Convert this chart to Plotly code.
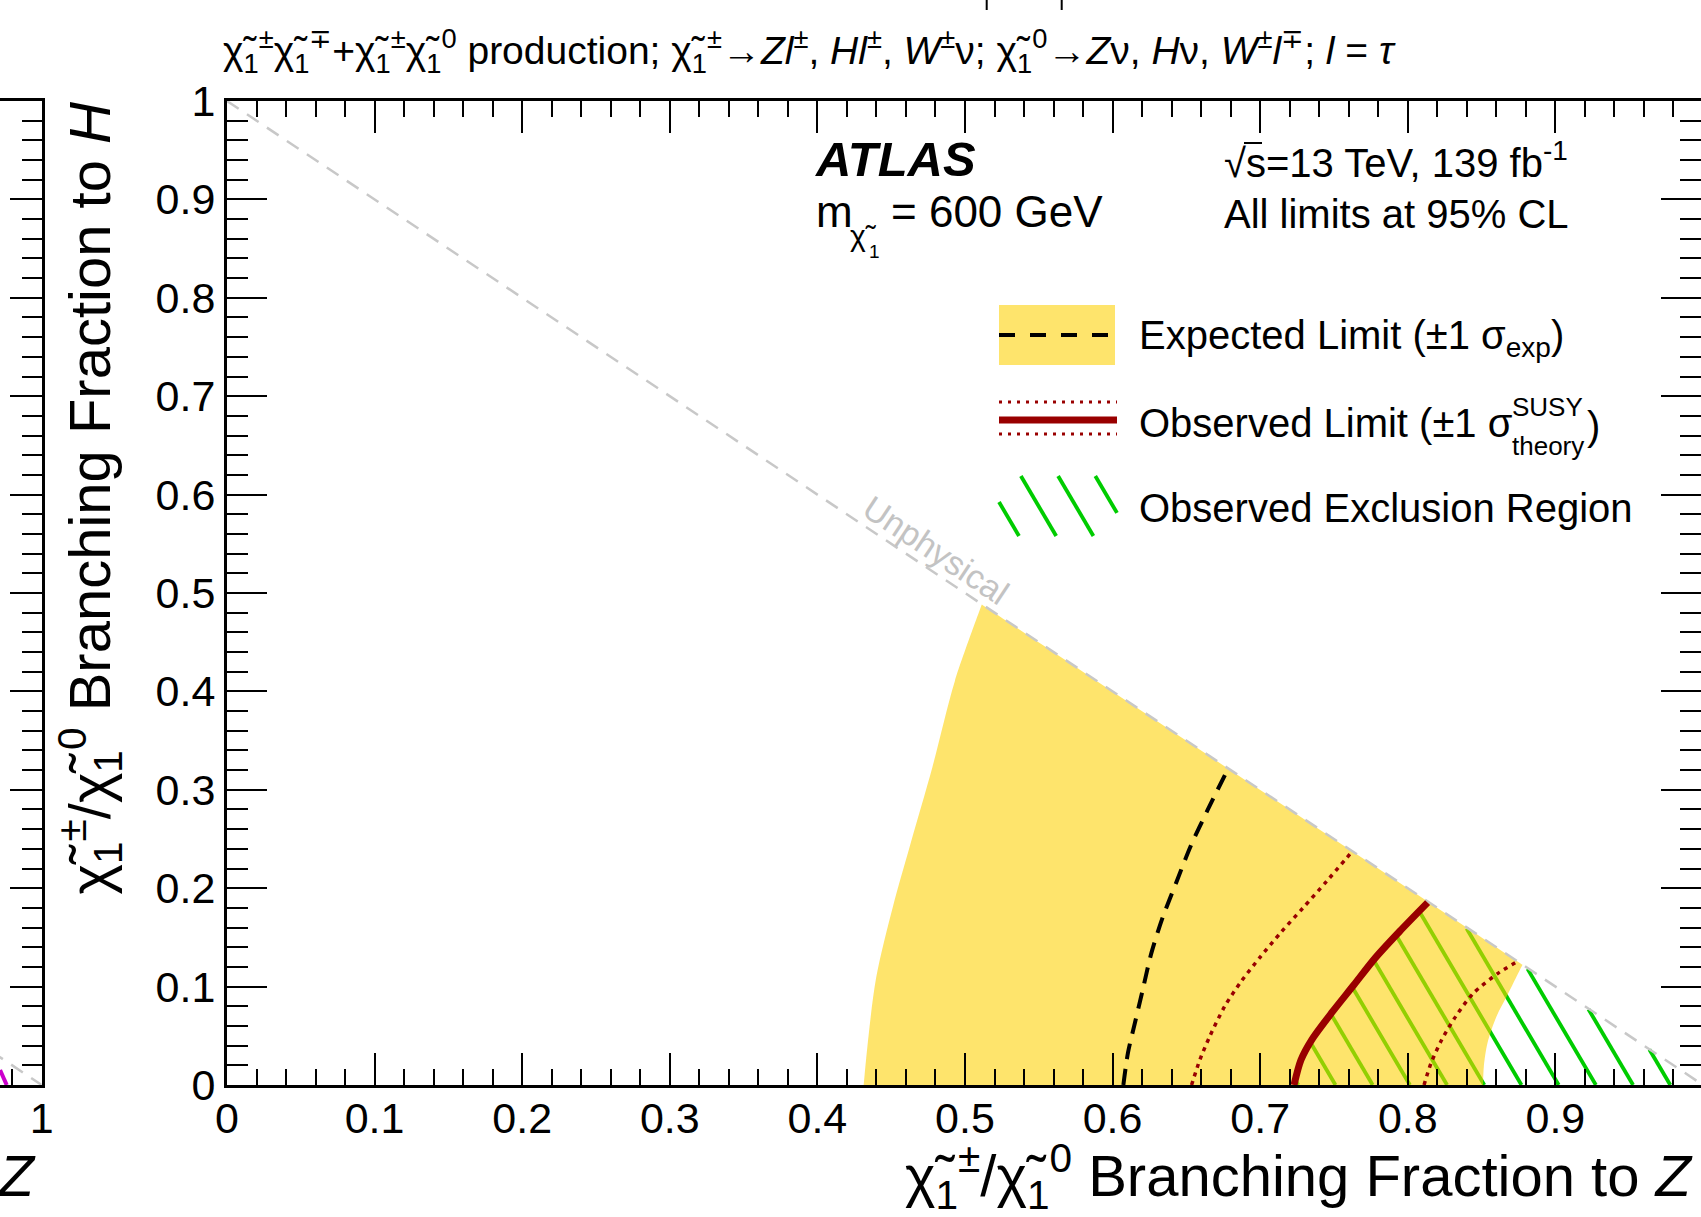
import plotly.graph_objects as go

# ---------------------------------------------------------------------------
# Canvas and frame geometry (pixels)
# ---------------------------------------------------------------------------
W, H = 1701, 1217
X0, X1 = 227.0, 1703.0      # pixel position of x = 0 and x = 1
Y_TOP, Y_BOT = 101.0, 1085.0  # pixel position of y = 1 and y = 0
LEFT_W = 41.7               # visible width of the neighbouring panel
FONT = "Liberation Sans, Arial, Helvetica, sans-serif"

# ---------------------------------------------------------------------------
# Limit contours in the (BF to Z, BF to H) plane, m(chi1) = 600 GeV
# ---------------------------------------------------------------------------
# expected +-1 sigma band: left edge (x-axis up to the kinematic boundary)
band_left_x = [0.4314, 0.4342, 0.4398, 0.4512, 0.4627, 0.4779, 0.4931, 0.5114]
band_left_y = [0.0000, 0.0437, 0.1089, 0.1815, 0.2432, 0.3230, 0.4102, 0.4882]
# expected +-1 sigma band: right edge (kinematic boundary down to the x-axis)
band_right_x = [0.8777, 0.8680, 0.8600, 0.8540, 0.8515, 0.8510]
band_right_y = [0.1223, 0.0930, 0.0694, 0.0427, 0.0186, 0.0000]

# expected limit
exp_x = [0.6073, 0.6104, 0.6149, 0.6206, 0.6263, 0.6340, 0.6434, 0.6530, 0.6644, 0.6766]
exp_y = [0.0000, 0.0327, 0.0617, 0.0980, 0.1343, 0.1706, 0.2069, 0.2432, 0.2795, 0.3165]

# observed limit
obs_x = [0.7229, 0.7276, 0.7348, 0.7490, 0.7634, 0.7777, 0.7944, 0.8134]
obs_y = [0.0000, 0.0254, 0.0457, 0.0745, 0.1016, 0.1287, 0.1560, 0.1853]

# observed limit, +1 sigma theory
obs_up_x = [0.6535, 0.6590, 0.6660, 0.6760, 0.6870, 0.7000, 0.7140, 0.7290, 0.7450, 0.7626]
obs_up_y = [0.0000, 0.0250, 0.0500, 0.0800, 0.1050, 0.1300, 0.1550, 0.1800, 0.2070, 0.2378]

# observed limit, -1 sigma theory
obs_dn_x = [0.8110, 0.8157, 0.8229, 0.8324, 0.8444, 0.8611, 0.8741]
obs_dn_y = [0.0000, 0.0220, 0.0457, 0.0695, 0.0932, 0.1135, 0.1253]

# kinematic boundary BF(Z) + BF(H) = 1
unphys_x = [0.0, 1.0]
unphys_y = [1.0, 0.0]

# axis ticks
x_tickvals = [0.0, 0.1, 0.2, 0.3, 0.4, 0.5, 0.6, 0.7, 0.8, 0.9]
x_ticktext = ["0", "0.1", "0.2", "0.3", "0.4", "0.5", "0.6", "0.7", "0.8", "0.9"]
y_tickvals = [0.0, 0.1, 0.2, 0.3, 0.4, 0.5, 0.6, 0.7, 0.8, 0.9, 1.0]
y_ticktext = ["0", "0.1", "0.2", "0.3", "0.4", "0.5", "0.6", "0.7", "0.8", "0.9", "1"]

# neighbouring panel (only its right edge is on the canvas)
side_tickvals = [1.0]
side_ticktext = ["1"]
side_hatch_x = [0.9718, 0.9763]
side_hatch_y = [0.0152, 0.0000]

# ---------------------------------------------------------------------------
# Styles
# ---------------------------------------------------------------------------
YELLOW_BAND = "rgba(253,208,2,0.58)"
YELLOW_SOLID = "#FEE46C"
DARK_RED = "#990000"
GREEN = "#00CC00"
GREY = "#C8C8C8"
HATCH_SLOPE_PX = 1.7          # hatch lines rise 1.7 px per px to the left
HATCH_STEP_PX = 37.2          # horizontal spacing of hatch lines
HATCH_PHASE = 0.751           # one hatch line meets the x-axis here
TICK_SIZE = 43
AXIS_TITLE_SIZE = 58
LEGEND_SIZE = 40

PX_PER_X = X1 - X0
PX_PER_Y = Y_BOT - Y_TOP


def px_x(X):
    return X / W


def px_y(Y):
    return 1.0 - Y / H


def clip_line(poly_x, poly_y, ox, oy, dx, dy):
    """Parameter intervals where the line o + t*d lies inside a polygon."""
    ts = []
    n = len(poly_x)
    for i in range(n):
        x1, y1 = poly_x[i], poly_y[i]
        x2, y2 = poly_x[(i + 1) % n], poly_y[(i + 1) % n]
        ex, ey = x2 - x1, y2 - y1
        den = dx * ey - dy * ex
        if abs(den) < 1e-14:
            continue
        t = ((x1 - ox) * ey - (y1 - oy) * ex) / den
        s = ((x1 - ox) * dy - (y1 - oy) * dx) / den
        if 0.0 <= s < 1.0:
            ts.append(t)
    ts.sort()
    return list(zip(ts[0::2], ts[1::2]))


def hatch(poly_x, poly_y, x_base, y_base, step, slope_dx, slope_dy, x_lo, x_hi):
    """Parallel hatch segments through (x_base + k*step, y_base) clipped to a polygon."""
    out = []
    k_lo = int((x_lo - x_base) / step) - 2
    k_hi = int((x_hi - x_base) / step) + 2
    for k in range(k_lo, k_hi + 1):
        ox = x_base + k * step
        for ta, tb in clip_line(poly_x, poly_y, ox, y_base, slope_dx, slope_dy):
            out.append(((ox + ta * slope_dx, y_base + ta * slope_dy),
                        (ox + tb * slope_dx, y_base + tb * slope_dy)))
    return out


fig = go.Figure()

# --- observed exclusion region (hatched) -----------------------------------
excl_x = obs_x + [unphys_x[1]]
excl_y = obs_y + [unphys_y[1]]
slope_data = HATCH_SLOPE_PX * PX_PER_X / PX_PER_Y
# start every hatch line a little below the x-axis so it enters the region cleanly
segs = hatch(excl_x, excl_y, HATCH_PHASE + 0.05 / slope_data, -0.05,
             HATCH_STEP_PX / PX_PER_X, -1.0, slope_data, 0.6, 1.1)
hx, hy = [], []
for (a, b) in segs:
    hx += [a[0], b[0], None]
    hy += [a[1], b[1], None]
fig.add_trace(go.Scatter(x=hx, y=hy, mode="lines", hoverinfo="skip",
                         line=dict(color=GREEN, width=3.8), showlegend=False))

# --- expected +-1 sigma band ------------------------------------------------
# corner points are repeated so the spline keeps them sharp
band_x = ([band_left_x[0]] + band_left_x + [band_left_x[-1]]
          + [band_right_x[0]] + band_right_x + [band_right_x[-1]] + [band_left_x[0]])
band_y = ([band_left_y[0]] + band_left_y + [band_left_y[-1]]
          + [band_right_y[0]] + band_right_y + [band_right_y[-1]] + [band_left_y[0]])
fig.add_trace(go.Scatter(x=band_x, y=band_y, mode="lines", fill="toself",
                         fillcolor=YELLOW_BAND,
                         line=dict(width=0, shape="spline", smoothing=0.9),
                         hoverinfo="skip", showlegend=False))

# --- kinematic boundary -----------------------------------------------------
fig.add_trace(go.Scatter(x=unphys_x, y=unphys_y, mode="lines", hoverinfo="skip",
                         line=dict(color=GREY, width=2.5, dash="14px,10px"),
                         showlegend=False))

# --- limit contours ---------------------------------------------------------
fig.add_trace(go.Scatter(x=exp_x, y=exp_y, mode="lines", showlegend=False,
                         line=dict(color="black", width=4, dash="16px,10px",
                                   shape="spline", smoothing=0.8)))
for cx, cy in ((obs_up_x, obs_up_y), (obs_dn_x, obs_dn_y)):
    fig.add_trace(go.Scatter(x=cx, y=cy, mode="lines", showlegend=False,
                             line=dict(color=DARK_RED, width=3.5, dash="4px,5px",
                                       shape="spline", smoothing=0.8)))
fig.add_trace(go.Scatter(x=obs_x, y=obs_y, mode="lines", showlegend=False,
                         line=dict(color=DARK_RED, width=7, shape="spline",
                                   smoothing=0.8)))

# --- neighbouring panel -----------------------------------------------------
fig.add_trace(go.Scatter(x=unphys_x, y=unphys_y, mode="lines", xaxis="x2", yaxis="y2",
                         line=dict(color=GREY, width=2.5, dash="14px,10px"),
                         hoverinfo="skip", showlegend=False))
fig.add_trace(go.Scatter(x=side_hatch_x, y=side_hatch_y, mode="lines", xaxis="x2",
                         yaxis="y2", line=dict(color="#CC00CC", width=4),
                         hoverinfo="skip", showlegend=False))

# ---------------------------------------------------------------------------
# Axes
# ---------------------------------------------------------------------------
tickfont = dict(family=FONT, size=TICK_SIZE, color="black")
common = dict(showgrid=False, zeroline=False, showline=True, linecolor="black",
              linewidth=3, ticks="inside", tickcolor="black", tickwidth=2,
              tickfont=tickfont, automargin=False)


def minor(length):
    return dict(tickmode="linear", tick0=0.0, dtick=0.02, ticklen=length,
                tickwidth=2, tickcolor="black", ticks="inside", showgrid=False)


fig.update_layout(
    width=W, height=H, autosize=False,
    margin=dict(l=0, r=0, t=0, b=0, pad=0, autoexpand=False),
    paper_bgcolor="white", plot_bgcolor="white",
    showlegend=False,
    xaxis=dict(domain=[X0 / W, 1.0], range=[0.0, (W - X0) / PX_PER_X],
               anchor="y", mirror="ticks", ticklen=32, ticklabelstandoff=-7,
               tickmode="array", tickvals=x_tickvals, ticktext=x_ticktext,
               minor=minor(16), **common),
    yaxis=dict(domain=[1 - Y_BOT / H, 1 - Y_TOP / H], range=[0.0, 1.0],
               anchor="x", mirror="ticks", ticklen=40,
               tickmode="array", tickvals=y_tickvals, ticktext=y_ticktext,
               minor=minor(21), **common),
    xaxis2=dict(domain=[0.0, LEFT_W / W], range=[1.0 - LEFT_W / PX_PER_X, 1.0],
                anchor="y2", mirror=True, ticklen=32, ticklabelstandoff=-7,
                tickmode="array", tickvals=side_tickvals, ticktext=side_ticktext,
                minor=minor(16), **common),
    yaxis2=dict(domain=[1 - Y_BOT / H, 1 - Y_TOP / H], range=[0.0, 1.0],
                anchor="x2", side="right", ticklen=32, showticklabels=False,
                dtick=0.1, tick0=0.0, minor=minor(20), **common),
)

# ---------------------------------------------------------------------------
# Text
# ---------------------------------------------------------------------------
annotations = []


def text(s, X, Y, size, xanchor="left", yanchor="middle", color="black", angle=0):
    annotations.append(dict(text=s, x=px_x(X), y=px_y(Y), xref="paper", yref="paper",
                            xanchor=xanchor, yanchor=yanchor, showarrow=False,
                            textangle=angle, borderpad=0,
                            font=dict(family=FONT, size=size, color=color)))


CHI = "χ\u0303"
title = (f"{CHI}<sub>1</sub><sup>±</sup>{CHI}<sub>1</sub><sup>∓</sup>+"
         f"{CHI}<sub>1</sub><sup>±</sup>{CHI}<sub>1</sub><sup>0</sup> production; "
         f"{CHI}<sub>1</sub><sup>±</sup>→<i>Zl</i><sup>±</sup>, <i>Hl</i><sup>±</sup>, "
         f"<i>W</i><sup>±</sup>ν; {CHI}<sub>1</sub><sup>0</sup>→<i>Z</i>ν, <i>H</i>ν, "
         f"<i>W</i><sup>±</sup><i>l</i><sup>∓</sup>; <i>l</i> = <i>τ</i>")
text(title, 222, 51, 39)

x_title = (f"{CHI}<sub>1</sub><sup>±</sup>/{CHI}<sub>1</sub><sup>0</sup> "
           f"Branching Fraction to <i>Z</i>")
y_title = (f"{CHI}<sub>1</sub><sup>±</sup>/{CHI}<sub>1</sub><sup>0</sup> "
           f"Branching Fraction to <i>H</i>")
text(x_title, 1695, 1176, AXIS_TITLE_SIZE, xanchor="right")
text(x_title, 38, 1176, AXIS_TITLE_SIZE, xanchor="right")
text(y_title, 90, 101, AXIS_TITLE_SIZE, xanchor="center", yanchor="top", angle=-90)

# experiment label and conditions
text("<b><i>ATLAS</i></b>", 814, 159, 49)
text("m", 815, 212, 44)
text(CHI, 849, 236, 30)
text("1", 868, 251, 19)
text("= 600 GeV", 890, 212, 44)
text("√s=13 TeV, 139 fb<sup>-1</sup>", 1223, 160, 40)
text("All limits at 95% CL", 1223, 214, 40)

# boundary label
annotations.append(dict(text="Unphysical", x=0.4804, y=0.5437, xref="x", yref="y",
                        xanchor="center", yanchor="middle", showarrow=False,
                        textangle=33.7, font=dict(family=FONT, size=34, color="#C3C3C3")))

# legend
text("Expected Limit (±1 σ<sub>exp</sub>)", 1138, 338, LEGEND_SIZE)
text("Observed Limit (±1 σ", 1138, 423, LEGEND_SIZE)
text("SUSY", 1511, 407, 26)
text("theory", 1511, 446, 26)
text(")", 1586, 426, LEGEND_SIZE)
text("Observed Exclusion Region", 1138, 508, LEGEND_SIZE)

fig.update_layout(annotations=annotations)

# ---------------------------------------------------------------------------
# Legend glyphs and small decorations (paper coordinates)
# ---------------------------------------------------------------------------
shapes = []


def seg(Xa, Ya, Xb, Yb, color, width, dash="solid"):
    shapes.append(dict(type="line", xref="paper", yref="paper",
                       x0=px_x(Xa), y0=px_y(Ya), x1=px_x(Xb), y1=px_y(Yb),
                       line=dict(color=color, width=width, dash=dash), layer="above"))


shapes.append(dict(type="rect", xref="paper", yref="paper",
                   x0=px_x(999), x1=px_x(1115), y0=px_y(365), y1=px_y(305),
                   fillcolor=YELLOW_SOLID, line=dict(width=0), layer="above"))
seg(999, 335, 1115, 335, "black", 4, "16px,15px")
seg(999, 402, 1117, 402, DARK_RED, 3, "3px,6px")
seg(999, 434, 1117, 434, DARK_RED, 3, "3px,6px")
seg(999, 420, 1117, 420, DARK_RED, 7)

# hatch sample in the legend (pixel coordinates, y downwards)
box_x = [999, 1117, 1117, 999]
box_y = [476, 476, 536, 536]
for (a, b) in hatch(box_x, box_y, 1019 + 10 / HATCH_SLOPE_PX, 546, HATCH_STEP_PX,
                    -1.0, -HATCH_SLOPE_PX, 950, 1200):
    seg(a[0], a[1], b[0], b[1], GREEN, 3.8)

# overline of the square root
seg(1244, 143, 1262, 143, "black", 2)

# marks of the panel above
for Xm in (986.7, 1061.7):
    seg(Xm, 0, Xm, 10, "black", 2)

fig.update_layout(shapes=shapes)

fig.write_html("out.html")
